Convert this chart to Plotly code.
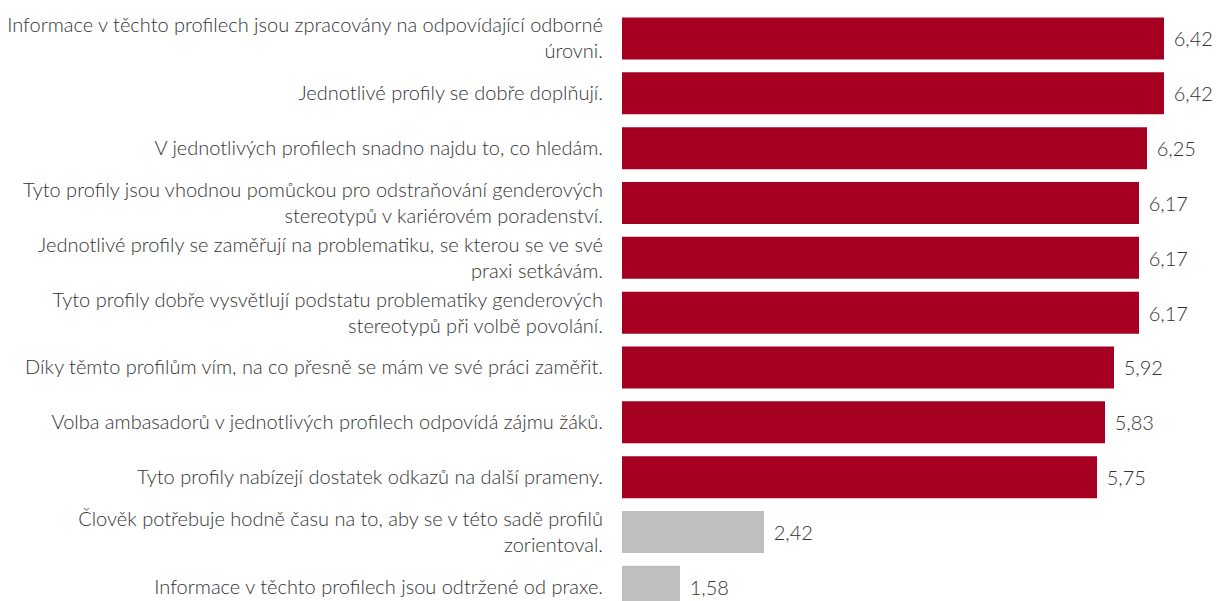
import plotly.graph_objects as go

categories = [
    "Informace v těchto profilech jsou zpracovány na odpovídající odborné<br>úrovni.",
    "Jednotlivé profily se dobře doplňují.",
    "V jednotlivých profilech snadno najdu to, co hledám.",
    "Tyto profily jsou vhodnou pomůckou pro odstraňování genderových<br>stereotypů v kariérovém poradenství.",
    "Jednotlivé profily se zaměřují na problematiku, se kterou se ve své<br>praxi setkávám.",
    "Tyto profily dobře vysvětlují podstatu problematiky genderových<br>stereotypů při volbě povolání.",
    "Díky těmto profilům vím, na co přesně se mám ve své práci zaměřit.",
    "Volba ambasadorů v jednotlivých profilech odpovídá zájmu žáků.",
    "Tyto profily nabízejí dostatek odkazů na další prameny.",
    "Člověk potřebuje hodně času na to, aby se v této sadě profilů<br>zorientoval.",
    "Informace v těchto profilech jsou odtržené od praxe.",
]
values = [6.42, 6.42, 6.25, 6.17, 6.17, 6.17, 5.92, 5.83, 5.75, 2.42, 1.58]
is_positive = [True] * 9 + [False] * 2

RED = "#A50021"
GREY = "#BFBFBF"
colors = [RED if p else GREY for p in is_positive]

FONT = "Lato Light, Lato, sans-serif"
TEXT_COLOR = "#333333"

fig = go.Figure(
    go.Bar(
        x=values,
        y=categories,
        orientation="h",
        marker=dict(color=colors, line=dict(width=0)),
        texttemplate="\u00a0\u200a%{x:.2f}",
        textposition="outside",
        textfont=dict(family=FONT, size=20, color=TEXT_COLOR),
        cliponaxis=False,
        hoverinfo="skip",
    )
)

# the page body has an 8px margin, so the figure is sized to fit the window
fig.update_layout(
    width=1212,
    height=593,
    margin=dict(l=614, r=0, t=0, b=0, autoexpand=False),
    paper_bgcolor="white",
    plot_bgcolor="white",
    separators=", ",
    bargap=0.234,
    showlegend=False,
    font=dict(family=FONT, size=20, color=TEXT_COLOR),
)
fig.update_xaxes(
    range=[1, 6.98],
    showgrid=False,
    zeroline=False,
    showticklabels=False,
    showline=False,
)
fig.update_yaxes(
    type="category",
    range=[10.259, -0.556],
    showgrid=False,
    zeroline=False,
    showline=False,
    ticks="",
    ticklabelstandoff=18,
    automargin=False,
    tickfont=dict(family=FONT, size=20, color=TEXT_COLOR),
)

fig.write_html("out.html")
